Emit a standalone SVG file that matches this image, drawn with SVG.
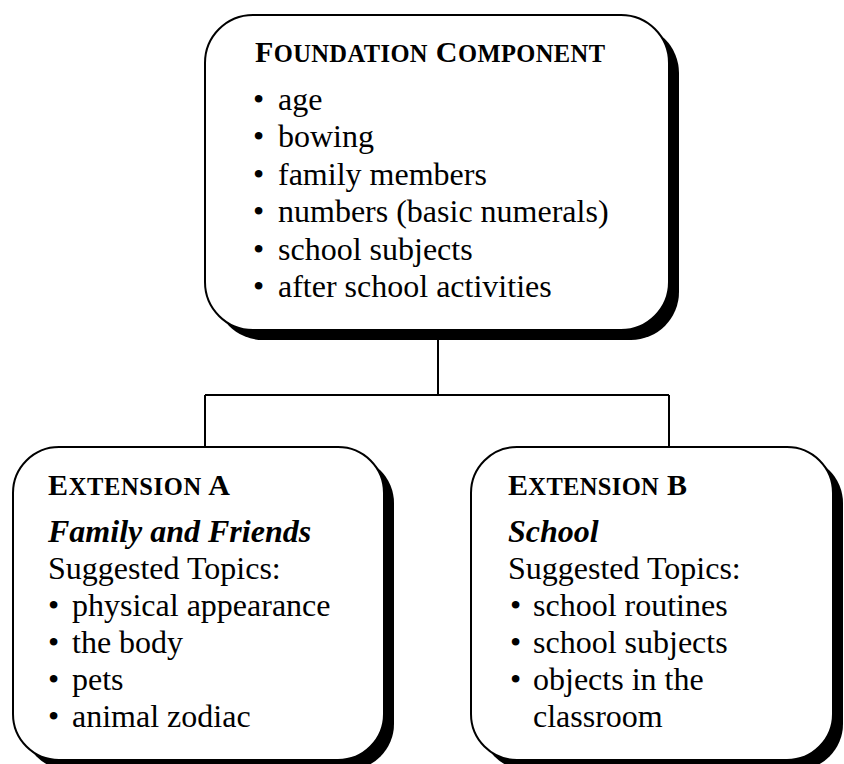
<svg xmlns="http://www.w3.org/2000/svg" width="844" height="764" viewBox="0 0 844 764">
  <style>
    .shadow { fill: #000; }
    .box { fill: #fff; stroke: #000; stroke-width: 2; }
    .link { fill: none; stroke: #000; stroke-width: 2; }
    text { font-family: "Liberation Serif", "Times New Roman", serif; fill: #000; }
    .body { font-size: 32px; }
    .head { font-size: 30px; font-weight: bold; }
    .sc { font-size: 24.5px; }
    .sub { font-size: 32px; font-weight: bold; font-style: italic; }
  </style>
  <rect width="844" height="764" fill="#fff"/>

  <g id="connectors">
    <path class="link" d="M438,331 V395 M205,395 H669 M205,395 V448 M669,395 V448"/>
  </g>

  <g id="foundation">
    <rect class="shadow" x="215" y="25" width="464" height="315" rx="48"/>
    <rect class="box" x="205" y="15" width="464" height="315" rx="48"/>
    <text class="head" x="255" y="62" textLength="350" lengthAdjust="spacing">F<tspan class="sc">OUNDATION</tspan> C<tspan class="sc">OMPONENT</tspan></text>
    <g class="body">
      <text x="253" y="110">•</text><text x="278" y="110">age</text>
      <text x="253" y="147">•</text><text x="278" y="147">bowing</text>
      <text x="253" y="185">•</text><text x="278" y="185">family members</text>
      <text x="253" y="222">•</text><text x="278" y="222">numbers (basic numerals)</text>
      <text x="253" y="260">•</text><text x="278" y="260">school subjects</text>
      <text x="253" y="297">•</text><text x="278" y="297">after school activities</text>
    </g>
  </g>

  <g id="extension-a">
    <rect class="shadow" x="23" y="457" width="371" height="313" rx="46"/>
    <rect class="box" x="13" y="447" width="371" height="313" rx="46"/>
    <text class="head" x="48" y="495" textLength="182" lengthAdjust="spacing">E<tspan class="sc">XTENSION</tspan> A</text>
    <text class="sub" x="48" y="542">Family and Friends</text>
    <g class="body">
      <text x="48" y="579">Suggested Topics:</text>
      <text x="48" y="616">•</text><text x="72" y="616">physical appearance</text>
      <text x="48" y="653">•</text><text x="72" y="653">the body</text>
      <text x="48" y="690">•</text><text x="72" y="690">pets</text>
      <text x="48" y="727">•</text><text x="72" y="727">animal zodiac</text>
    </g>
  </g>

  <g id="extension-b">
    <rect class="shadow" x="481" y="457" width="362" height="313" rx="46"/>
    <rect class="box" x="471" y="447" width="362" height="313" rx="46"/>
    <text class="head" x="508" y="495" textLength="179" lengthAdjust="spacing">E<tspan class="sc">XTENSION</tspan> B</text>
    <text class="sub" x="508" y="542">School</text>
    <g class="body">
      <text x="508" y="579">Suggested Topics:</text>
      <text x="510" y="616">•</text><text x="533" y="616">school routines</text>
      <text x="510" y="653">•</text><text x="533" y="653">school subjects</text>
      <text x="510" y="690">•</text><text x="533" y="690">objects in the</text>
      <text x="533" y="727">classroom</text>
    </g>
  </g>
</svg>
